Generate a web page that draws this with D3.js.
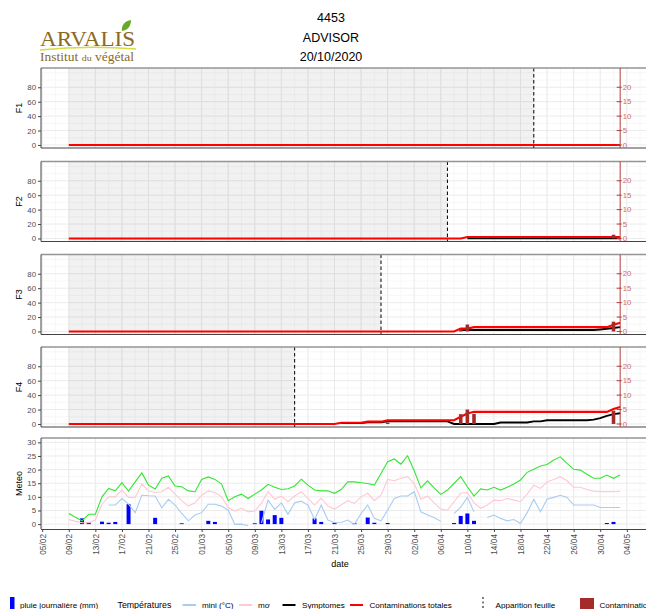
<!DOCTYPE html>
<html>
<head>
<meta charset="utf-8">
<script src="https://cdn.jsdelivr.net/npm/d3@7"></script>
<style>
  body { margin: 0; background: #fff; }
  svg { display: block; font-family: "Liberation Sans", Arial, sans-serif; }
</style>
</head>
<body>
<svg id="chart" width="646" height="609"></svg>
<script>
// ---- data -----------------------------------------------------------------
const seasonYear = 2021;
const titleLines = ["4453", "ADVISOR", "20/10/2020"];

const dateTicks = ["05/02","09/02","13/02","17/02","21/02","25/02","01/03","05/03","09/03",
  "13/03","17/03","21/03","25/03","29/03","02/04","06/04","10/04","14/04","18/04",
  "22/04","26/04","30/04","04/05"];

const leafNames = ["F1", "F2", "F3", "F4"];
const leafApparition = ["20/04", "07/04", "28/03", "15/03"];
const simulationStart = "09/02";
const simulationEnd = "03/05";

// Contaminations totales (right axis units)
const totalF1 = [["09/02",0],["03/05",0]];
const totalF2 = [["09/02",0],["09/04",0],["10/04",0.5],["03/05",0.5]];
const totalF3 = [["09/02",0],["08/04",0],["09/04",1.0],["10/04",1.0],["11/04",1.5],["01/05",1.5],["02/05",2.3],["03/05",3.0]];
const totalF4 = [["09/02",0],["21/03",0],["22/03",0.4],["25/03",0.4],["26/03",0.8],["28/03",0.8],["29/03",1.3],
  ["08/04",1.3],["09/04",2.5],["10/04",3.6],["11/04",4.2],["01/05",4.2],["02/05",5.2],["03/05",5.9]];

// Symptomes (right axis units)
const symptF1 = [];
const symptF2 = [["10/04",0.1],["03/05",0.1]];
const symptF3 = [["09/04",0.5],["29/04",0.5],["30/04",0.7],["02/05",1.2],["03/05",1.5]];
const symptF4 = [["22/03",0.3],["25/03",0.3],["26/03",0.6],["28/03",0.6],["29/03",0.9],["07/04",0.9],["08/04",0],
  ["14/04",0],["15/04",0.5],["19/04",0.5],["20/04",0.9],["21/04",0.9],["22/04",1.3],["28/04",1.3],
  ["29/04",1.5],["30/04",2.0],["01/05",2.8],["02/05",3.4],["03/05",3.7]];

// Contaminations journalières (right axis units)
const contamF1 = [];
const contamF2 = [["02/05",1.3]];
const contamF3 = [["09/04",0.8],["10/04",2.4],["02/05",3.4]];
const contamF4 = [["29/03",0.5],["09/04",3.4],["10/04",5.0],["11/04",3.5],["02/05",4.6]];

// Meteo, one value per day from 09/02 to 03/05
const meteoStart = "09/02";
const tempMax = [3.9,2.5,1.2,3.6,3.6,10.0,13.1,12.2,15.2,12.1,15.5,18.8,14.3,12.9,16.8,17.7,14.0,13.7,12.2,11.9,
  16.4,17.3,16.4,14.7,8.6,10.0,11.0,9.4,11.0,12.5,14.6,13.5,12.7,13.0,14.0,16.5,14.3,12.5,12.2,12.2,
  11.3,12.7,15.5,15.5,15.2,14.9,14.3,18.6,22.9,23.9,22.0,25.1,19.6,13.3,15.9,13.3,10.9,12.5,14.9,17.4,
  13.7,10.3,12.9,12.5,13.5,12.5,13.5,14.7,16.2,19.0,20.1,21.3,21.9,23.5,24.7,22.3,20.1,19.8,18.3,16.8,
  16.8,18.0,16.8,18.0];
const tempMoy = [1.7,1.0,0.5,0.5,1.5,7.3,10.0,10.0,12.5,9.8,9.8,14.7,12.2,11.6,11.9,13.5,11.0,8.6,6.6,7.8,
  10.6,12.2,11.6,10.0,6.1,4.8,5.8,4.5,4.8,7.6,11.9,9.1,10.3,8.2,10.3,11.9,9.4,7.0,9.5,6.6,
  5.5,7.0,8.6,7.6,10.0,11.3,8.6,10.6,16.4,15.9,16.8,17.4,14.9,9.1,10.3,7.8,5.5,5.1,8.2,11.3,
  11.6,7.8,5.8,7.0,8.8,8.6,9.4,8.8,8.2,11.0,14.3,13.1,15.5,16.4,17.4,15.9,13.5,13.5,12.7,12.1,
  11.9,11.9,11.9,12.1];
const tempMin = [null,null,null,null,null,null,7.0,7.0,9.4,7.3,4.2,10.6,10.4,10.3,6.0,9.1,7.0,3.9,1.2,3.3,
  4.2,7.3,7.3,6.6,5.1,-0.1,0.0,-0.6,null,0.4,8.8,5.4,7.8,3.6,7.8,8.4,7.0,1.7,7.0,1.5,
  0.5,0.6,1.5,-0.1,3.9,7.0,2.1,1.2,5.1,9.4,10.3,10.3,11.9,4.5,3.3,2.4,1.0,null,3.9,6.2,
  9.8,4.5,null,2.4,3.3,2.1,1.2,1.7,0.2,4.2,9.1,4.5,9.1,9.8,10.6,9.8,7.0,7.0,7.0,7.0,
  6.1,6.1,6.1,6.1];
const rainDays = ["11/02","12/02","14/02","15/02","16/02","18/02","22/02","26/02","02/03","03/03","09/03",
  "10/03","11/03","12/03","13/03","18/03","19/03","21/03","24/03","26/03","27/03","29/03","08/04",
  "09/04","10/04","11/04","01/05","02/05"];
const rainMm = [2.1,0.6,0.9,0.5,0.8,7.3,2.3,0.3,1.2,0.8,0.3,4.9,1.7,3.3,2.3,2.1,0.8,0.5,0.4,2.4,0.5,0.4,0.4,
  3.0,3.9,1.2,0.4,0.8];

const leafTicks = [0, 20, 40, 60, 80];
const rightTicks = [0, 5, 10, 15, 20];
const meteoTicks = [0, 5, 10, 15, 20, 25, 30];

// ---- helpers --------------------------------------------------------------
const parse = s => { const [d, m] = s.split("/").map(Number); return new Date(seasonYear, m - 1, d); };
const svg = d3.select("#chart");
const C = {
  grid: "#ebebeb", gridMinor: "#f2f2f2", axisText: "#4d4d4d", border: "#949494",
  total: "#ff0000", sympt: "#000000", contam: "#a52a2a", rightAxis: "#b83a3a", rightText: "#cf6b6b",
  rain: "#0000ff", tmin: "#a8ccf2", tmoy: "#ffc8d2", tmax: "#33e633"
};
const tickFont = 7.8;

const panelLeft = 41, panelRight = 664;
const x = d3.scaleTime().domain([parse(dateTicks[0]), parse(dateTicks[dateTicks.length - 1])]).range([42.2, 626.8]);
const dayW = x(parse("06/02")) - x(parse("05/02"));

const tickDates = dateTicks.map(parse);
const minorDates = d3.timeDay.range(d3.timeDay.offset(tickDates[0], -2), d3.timeDay.offset(tickDates[tickDates.length - 1], 10), 2);

svg.append("defs");

function panelFrame(g, top, h, id) {
  g.append("clipPath").attr("id", id).append("rect")
    .attr("x", panelLeft).attr("y", top).attr("width", panelRight - panelLeft).attr("height", h);
  g.append("rect").attr("x", panelLeft).attr("y", top).attr("width", panelRight - panelLeft).attr("height", h)
    .attr("fill", "#fff");
}

function verticalGrid(g, top, h, clip) {
  const gg = g.append("g").attr("clip-path", `url(#${clip})`);
  gg.selectAll("line.vm").data(minorDates).join("line")
    .attr("x1", d => x(d)).attr("x2", d => x(d)).attr("y1", top).attr("y2", top + h)
    .attr("stroke", C.gridMinor).attr("stroke-width", 0.6);
  gg.selectAll("line.vM").data(tickDates).join("line")
    .attr("x1", d => x(d)).attr("x2", d => x(d)).attr("y1", top).attr("y2", top + h)
    .attr("stroke", C.grid).attr("stroke-width", 1);
}

// ---- header ---------------------------------------------------------------
const logo = svg.append("g");
logo.append("text").attr("x", 40).attr("y", 45.5)
  .attr("font-family", "'Liberation Serif', 'DejaVu Serif', serif").attr("font-size", 22)
  .attr("fill", "#8b6a1e").attr("textLength", 95).attr("lengthAdjust", "spacingAndGlyphs").text("ARVALIS");
logo.append("path").attr("d", "M122,31 C121,25 125,21 131,20 C131,26 128,30 122,31 Z").attr("fill", "#6aa82a");
logo.append("path").attr("d", "M40,50 Q88,45 136,49").attr("fill", "none").attr("stroke", "#d5dd3c").attr("stroke-width", 1.4);
const inst = logo.append("text").attr("x", 40).attr("y", 61)
  .attr("font-family", "'Liberation Serif', 'DejaVu Serif', serif").attr("font-size", 11.5)
  .attr("fill", "#8b6a1e").attr("textLength", 94).attr("lengthAdjust", "spacingAndGlyphs");
inst.append("tspan").text("Institut ");
inst.append("tspan").attr("font-size", 8.5).text("du");
inst.append("tspan").text(" végétal");

svg.append("g").selectAll("text").data(titleLines).join("text")
  .attr("x", 331).attr("y", (d, i) => 22 + i * 19.5).attr("text-anchor", "middle")
  .attr("font-size", 12.5).attr("fill", "#000").text(d => d);

// ---- leaf panels ----------------------------------------------------------
const leafTops = [68, 161.5, 254.5, 347];
const leafH = 80;
const totals = [totalF1, totalF2, totalF3, totalF4];
const sympts = [symptF1, symptF2, symptF3, symptF4];
const contams = [contamF1, contamF2, contamF3, contamF4];

leafNames.forEach((name, i) => {
  const top = leafTops[i];
  const g = svg.append("g");
  const clip = "clip-" + name;
  panelFrame(g, top, leafH, clip);
  const y = d3.scaleLinear().domain([-4.2, 106.7]).range([top + leafH, top]);
  const yR = v => y(v * 4);

  // horizontal grid
  g.append("g").selectAll("line").data(d3.range(0, 101, 10)).join("line")
    .attr("x1", panelLeft).attr("x2", panelRight).attr("y1", d => y(d)).attr("y2", d => y(d))
    .attr("stroke", d => d % 20 === 0 && d <= 80 ? C.grid : C.gridMinor).attr("stroke-width", d => d % 20 === 0 && d <= 80 ? 1 : 0.6);
  verticalGrid(g, top, leafH, clip);

  const body = g.append("g").attr("clip-path", `url(#${clip})`);
  // period before leaf emergence
  body.append("rect").attr("x", x(parse(simulationStart))).attr("y", top)
    .attr("width", x(parse(leafApparition[i])) - x(parse(simulationStart))).attr("height", leafH)
    .attr("fill", "#000").attr("fill-opacity", 0.055);

  const line = d3.line().x(d => x(parse(d[0]))).y(d => yR(d[1]));
  if (sympts[i].length) body.append("path").datum(sympts[i]).attr("d", line)
    .attr("fill", "none").attr("stroke", C.sympt).attr("stroke-width", 1.9);
  body.append("path").datum(totals[i]).attr("d", line)
    .attr("fill", "none").attr("stroke", C.total).attr("stroke-width", 2.1);
  body.selectAll("rect.c").data(contams[i]).join("rect")
    .attr("x", d => x(parse(d[0])) - dayW * 0.27).attr("width", dayW * 0.54)
    .attr("y", d => yR(d[1])).attr("height", d => yR(0) - yR(d[1]))
    .attr("fill", C.contam);

  // leaf emergence
  body.append("line").attr("x1", x(parse(leafApparition[i]))).attr("x2", x(parse(leafApparition[i])))
    .attr("y1", top).attr("y2", top + leafH).attr("stroke", "#000").attr("stroke-width", 1)
    .attr("stroke-dasharray", "3.5,2.5");

  // frame lines
  g.append("line").attr("x1", panelLeft).attr("x2", panelRight).attr("y1", top).attr("y2", top)
    .attr("stroke", C.border).attr("stroke-width", 1.4);
  g.append("line").attr("x1", panelLeft).attr("x2", panelRight).attr("y1", top + leafH).attr("y2", top + leafH)
    .attr("stroke", "#444").attr("stroke-width", 1);
  g.append("line").attr("x1", panelLeft).attr("x2", panelLeft).attr("y1", top).attr("y2", top + leafH)
    .attr("stroke", "#444").attr("stroke-width", 1);

  // left axis
  const ax = g.append("g").attr("transform", `translate(${panelLeft},0)`)
    .call(d3.axisLeft(y).tickValues(leafTicks).tickSize(3).tickPadding(2));
  ax.select(".domain").remove();
  ax.selectAll(".tick line").attr("stroke", "#444");
  ax.selectAll(".tick text").attr("fill", C.axisText).attr("font-size", tickFont).attr("font-family", null);

  // right axis on the last simulated day
  const xr = x(parse(simulationEnd));
  g.append("line").attr("x1", xr).attr("x2", xr).attr("y1", top).attr("y2", top + leafH)
    .attr("stroke", C.rightAxis).attr("stroke-width", 1);
  const rAx = g.append("g");
  rAx.selectAll("line").data(rightTicks).join("line")
    .attr("x1", xr - 3.5).attr("x2", xr + 1.5).attr("y1", d => yR(d)).attr("y2", d => yR(d))
    .attr("stroke", C.rightAxis).attr("stroke-width", 1);
  rAx.selectAll("text").data(rightTicks).join("text")
    .attr("x", xr + 2.5).attr("y", d => yR(d)).attr("dy", "0.35em")
    .attr("font-size", tickFont).attr("fill", C.rightText).text(d => d);

  // axis title
  svg.append("text").attr("transform", `translate(22,${top + leafH / 2}) rotate(-90)`)
    .attr("text-anchor", "middle").attr("font-size", 9).attr("fill", "#000").text(name);
});

// ---- meteo panel ----------------------------------------------------------
const mTop = 438, mH = 91;
const gm = svg.append("g");
panelFrame(gm, mTop, mH, "clip-meteo");
const ym = d3.scaleLinear().domain([-1.8, 31.6]).range([mTop + mH, mTop]);
gm.append("g").selectAll("line").data(d3.range(0, 31, 2.5)).join("line")
  .attr("x1", panelLeft).attr("x2", panelRight).attr("y1", d => ym(d)).attr("y2", d => ym(d))
  .attr("stroke", d => d % 5 === 0 ? C.grid : C.gridMinor).attr("stroke-width", d => d % 5 === 0 ? 1 : 0.6);
verticalGrid(gm, mTop, mH, "clip-meteo");

const meteoDays = d3.timeDay.range(parse(meteoStart), d3.timeDay.offset(parse(meteoStart), tempMax.length));
const mBody = gm.append("g").attr("clip-path", "url(#clip-meteo)");
mBody.selectAll("rect.rain").data(rainDays).join("rect")
  .attr("x", d => x(parse(d)) - dayW * 0.3).attr("width", dayW * 0.6)
  .attr("y", (d, i) => ym(rainMm[i])).attr("height", (d, i) => ym(0) - ym(rainMm[i]))
  .attr("fill", C.rain);
const mLine = vals => d3.line().defined(d => d[1] !== null).x(d => x(d[0])).y(d => ym(d[1]))(meteoDays.map((t, i) => [t, vals[i]]));
[[tempMin, C.tmin], [tempMoy, C.tmoy], [tempMax, C.tmax]].forEach(([vals, col]) => {
  mBody.append("path").attr("d", mLine(vals)).attr("fill", "none").attr("stroke", col).attr("stroke-width", 1.1);
});

gm.append("line").attr("x1", panelLeft).attr("x2", panelRight).attr("y1", mTop).attr("y2", mTop)
  .attr("stroke", C.border).attr("stroke-width", 1.4);
gm.append("line").attr("x1", panelLeft).attr("x2", panelLeft).attr("y1", mTop).attr("y2", mTop + mH)
  .attr("stroke", "#444").attr("stroke-width", 1);

const mAx = gm.append("g").attr("transform", `translate(${panelLeft},0)`)
  .call(d3.axisLeft(ym).tickValues(meteoTicks).tickSize(3).tickPadding(2));
mAx.select(".domain").remove();
mAx.selectAll(".tick line").attr("stroke", "#444");
mAx.selectAll(".tick text").attr("fill", C.axisText).attr("font-size", tickFont).attr("font-family", null);

const xAx = gm.append("g").attr("transform", `translate(0,${mTop + mH})`)
  .call(d3.axisBottom(x).tickValues(tickDates).tickSize(3).tickPadding(2).tickFormat(d3.timeFormat("%d/%m")));
xAx.select(".domain").attr("d", `M${panelLeft},0.5H${panelRight}`).attr("stroke", "#444");
xAx.selectAll(".tick line").attr("stroke", "#444");
xAx.selectAll(".tick text").attr("fill", C.axisText).attr("font-size", 8.3).attr("font-family", null)
  .attr("transform", "rotate(-90)").attr("text-anchor", "end").attr("x", -5).attr("y", 0).attr("dy", "0.35em");

svg.append("text").attr("transform", `translate(22,${mTop + mH / 2}) rotate(-90)`)
  .attr("text-anchor", "middle").attr("font-size", 9).attr("fill", "#000").text("Meteo");
svg.append("text").attr("x", 340).attr("y", 567).attr("text-anchor", "middle")
  .attr("font-size", 9).attr("fill", "#000").text("date");

// ---- legend ---------------------------------------------------------------
const lg = svg.append("g").attr("font-size", 8.1).attr("fill", "#000");
const ly = 605, lBase = 608;
lg.append("rect").attr("x", 10).attr("y", 597).attr("width", 4.5).attr("height", 13).attr("fill", C.rain);
lg.append("text").attr("x", 20).attr("y", lBase).text("pluie journalière (mm)");
lg.append("text").attr("x", 117.5).attr("y", lBase).attr("font-size", 8.8).text("Températures");
lg.append("line").attr("x1", 182.5).attr("x2", 196).attr("y1", ly).attr("y2", ly).attr("stroke", C.tmin).attr("stroke-width", 2);
lg.append("text").attr("x", 202).attr("y", lBase).text("mini (°C)");
lg.append("line").attr("x1", 239).attr("x2", 252).attr("y1", ly).attr("y2", ly).attr("stroke", C.tmoy).attr("stroke-width", 2);
svg.select("defs").append("clipPath").attr("id", "clip-moy").append("rect")
  .attr("x", 255).attr("y", 590).attr("width", 15).attr("height", 20);
lg.append("text").attr("x", 258).attr("y", lBase).attr("clip-path", "url(#clip-moy)").text("moy (°C)");
lg.append("line").attr("x1", 282.5).attr("x2", 295.5).attr("y1", ly).attr("y2", ly).attr("stroke", C.sympt).attr("stroke-width", 2);
lg.append("text").attr("x", 302).attr("y", lBase).text("Symptomes");
lg.append("line").attr("x1", 350).attr("x2", 363).attr("y1", ly).attr("y2", ly).attr("stroke", C.total).attr("stroke-width", 2);
lg.append("text").attr("x", 369.5).attr("y", lBase).text("Contaminations totales");
lg.append("line").attr("x1", 483).attr("x2", 483).attr("y1", 597).attr("y2", 610).attr("stroke", "#000")
  .attr("stroke-width", 1).attr("stroke-dasharray", "2,2.5");
lg.append("text").attr("x", 495.5).attr("y", lBase).text("Apparition feuille");
lg.append("rect").attr("x", 580).attr("y", 598).attr("width", 14).attr("height", 14).attr("fill", C.contam);
lg.append("text").attr("x", 599.5).attr("y", lBase).text("Contaminations journalières");
</script>
</body>
</html>
